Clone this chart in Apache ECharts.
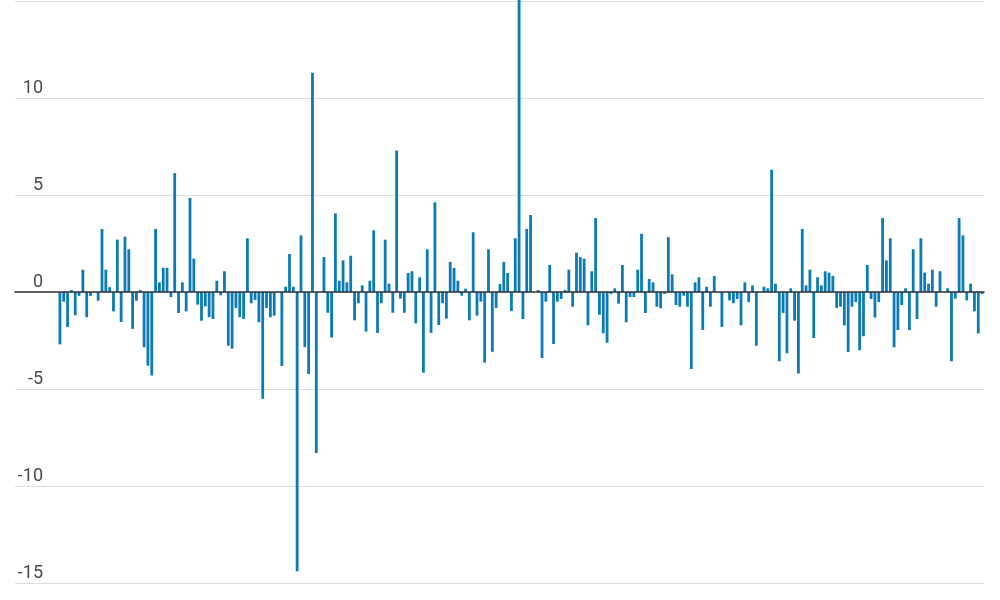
<!DOCTYPE html>
<html>
<head>
<meta charset="utf-8">
<script src="https://cdn.jsdelivr.net/npm/echarts@6/dist/echarts.min.js"></script>
<style>
html,body{margin:0;padding:0;background:#fff;}
#chart{width:1000px;height:600px;}
</style>
</head>
<body>
<div id="chart"></div>
<script>
// Series values, read left to right (242 bars)
const values = [
  -2.7, -0.5, -1.8, 0.1, -1.2, -0.2, 1.15, -1.3, -0.2, 0, -0.45, 3.25, 1.15, 0.25, -1.0, 2.7, -1.55, 2.85, 2.2, -1.9, -0.45, 0.1, -2.85, -3.8, -4.3, 3.25, 0.5, 1.25, 1.25,
  -0.26, 6.13, -1.08, 0.5, -1.0, 4.85, 1.72, -0.65, -1.48, -0.74, -1.3, -1.39, 0.58, -0.17, 1.07, -2.77, -2.92, -0.82, -1.3, -1.39, 2.77, -0.58, -0.41, -1.56, -5.5, -0.82, -1.3, -1.22, 0, -3.81,
  0.27, 1.96, 0.27, -14.4, 2.92, -2.84, -4.23, 11.3, -8.3, 0, 1.8, -1.07, -2.35, 4.05, 0.58, 1.63, 0.5, 1.87, -1.46, -0.58, 0.34, -2.04, 0.58, 3.18, -2.11, -0.58, 2.7, 0.43, -1.07, 7.29,
  -0.34, -1.07, 0.98, 1.07, -1.62, 0.76, -4.16, 2.2, -2.11, 4.62, -1.7, -0.58, -1.37, 1.55, 1.24, 0.58, -0.19, 0.17, -1.46, 3.08, -1.22, -0.5, -3.64, 2.2, -3.08, -0.82, 0.41, 1.55, 0.98, -0.98,
  2.77, 16, -1.39, 3.25, 3.97, 0, 0.1, -3.4, -0.5, 1.39, -2.68, -0.5, -0.36, 0.1, 1.15, -0.76, 2.03, 1.8, 1.72, -1.72, 1.07, 3.81, -1.17, -2.13, -2.61, -0.1, 0.19, -0.6, 1.39, -1.56,
  -0.26, -0.26, 1.15, 3.0, -1.08, 0.67, 0.5, -0.76, -0.84, -0.1, 2.83, 0.91, -0.67, -0.76, -0.19, -0.76, -3.97, 0.5, 0.76, -1.96, 0.27, -0.76, 0.82, 0, -1.8, 0, -0.43, -0.58, -0.36, -1.72,
  0.5, -0.52, 0.34, -2.77, 0, 0.27, 0.19, 6.3, 0.43, -3.57, -1.08, -3.16, 0.19, -1.48, -4.2, 3.25, 0.34, 1.15, -2.37, 0.76, 0.34, 1.07, 1.0, 0.82, -0.82, -0.76, -1.72, -3.09, -0.76, -0.52,
  -3.0, -2.28, 1.39, -0.36, -1.32, -0.52, 3.81, 1.63, 2.77, -2.85, -1.96, -0.67, 0.19, -1.96, 2.2, -1.39, 2.77, 1.0, 0.43, 1.15, -0.76, 1.07, 0, 0.19, -3.57, -0.34, 3.81, 2.92, -0.43, 0.43, -1.0, -2.13, -0.1
];
// Category labels (periods, not shown in the picture)
const categories = values.map((_, i) => 'P' + (i + 1));
// Y axis ticks
const yTicks = [-15, -10, -5, 0, 5, 10, 15];

const chart = echarts.init(document.getElementById('chart'), null, {renderer: 'canvas'});
const yMin = yTicks[0], yMax = yTicks[yTicks.length - 1], yStep = yTicks[1] - yTicks[0];

chart.setOption({
  animation: false,
  backgroundColor: '#ffffff',
  grid: [
    {left: 15, right: 16, top: 1, bottom: 17},
    {left: 58, right: 16, top: 1, bottom: 17}
  ],
  xAxis: [
    {
      gridIndex: 0, type: 'value', min: 0, max: 1, z: 5,
      axisLine: {show: true, onZero: true, lineStyle: {color: '#333333', width: 1.6}},
      axisTick: {show: false}, axisLabel: {show: false}, splitLine: {show: false}
    },
    {
      gridIndex: 1, type: 'category', data: categories,
      axisLine: {show: false}, axisTick: {show: false}, axisLabel: {show: false}, splitLine: {show: false}
    }
  ],
  yAxis: [
    {
      gridIndex: 0, type: 'value', min: yMin, max: yMax, interval: yStep,
      axisLine: {show: false}, axisTick: {show: false},
      splitLine: {show: true, lineStyle: {color: '#dddddd', width: 1}},
      axisLabel: {
        show: true, inside: true, margin: 28, align: 'right', verticalAlign: 'bottom',
        padding: [0, 0, 1, 0], fontSize: 18, color: '#4a4a4a', fontFamily: 'Roboto',
        showMaxLabel: false
      }
    },
    {
      gridIndex: 1, type: 'value', min: yMin, max: yMax, interval: yStep,
      axisLine: {show: false}, axisTick: {show: false}, axisLabel: {show: false}, splitLine: {show: false}
    }
  ],
  series: [{
    type: 'bar',
    xAxisIndex: 1, yAxisIndex: 1,
    data: values,
    barWidth: 2.8,
    clip: false,
    itemStyle: {color: '#0b7bb5'}
  }]
});
</script>
</body>
</html>
